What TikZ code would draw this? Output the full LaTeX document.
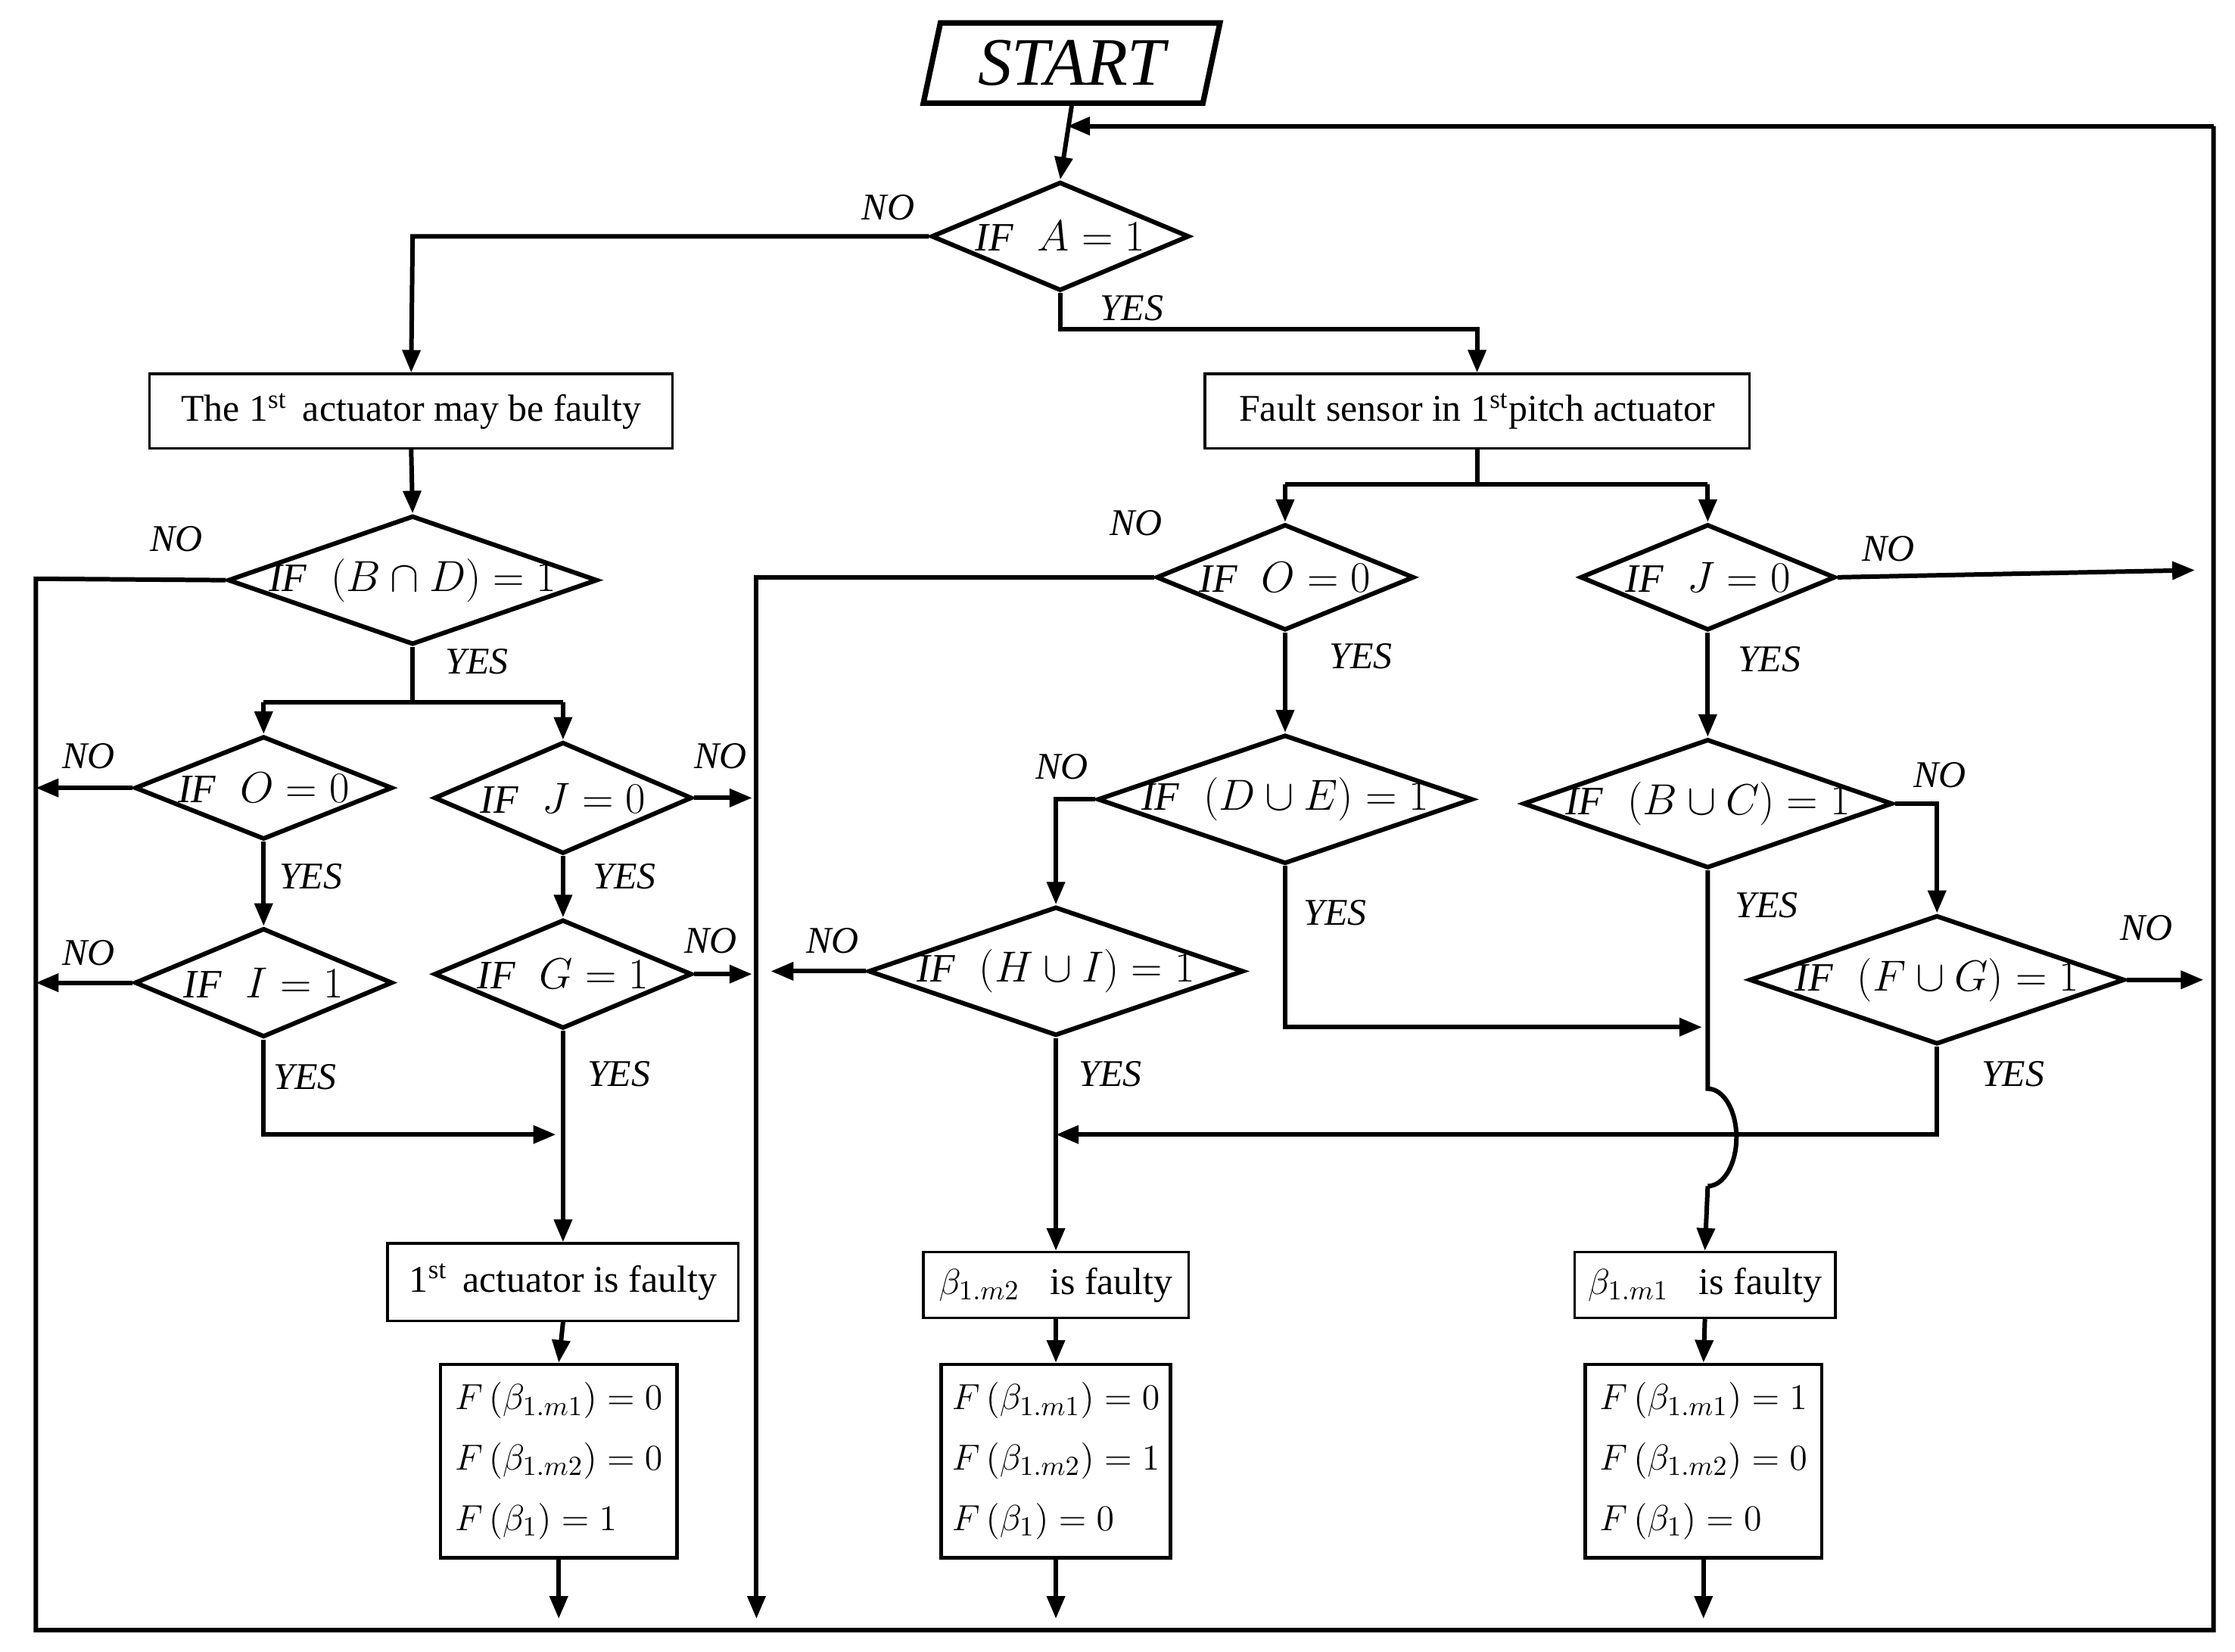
\documentclass[tikz,border=0pt]{standalone}
\usepackage{fontspec}
\setmainfont{Liberation Serif}
\usetikzlibrary{shapes.geometric,arrows.meta}
\begin{document}
\begin{tikzpicture}[x=0.02cm,y=-0.02cm,
  every path/.style={line width=1.6pt},
  line/.style={draw,line width=1.8pt},
  arr/.style={line,-{Triangle[length=9pt,width=7pt]}},
  dia/.style={diamond,draw,line width=1.8pt,inner sep=0pt,text width=0pt,text height=0pt,text depth=0pt},
  dt/.style={font=\fontsize{16}{18}\selectfont},
  box/.style={rectangle,draw,line width=1pt,inner sep=2pt,font=\fontsize{15}{18}\selectfont},
  eq/.style={rectangle,draw,line width=1.4pt,align=left,font=\fontsize{15}{24}\selectfont,minimum height=135*0.02cm},
  lab/.style={font=\fontsize{15}{18}\selectfont\itshape}]
\useasboundingbox (0,0) rectangle (1560,1153);
\node[trapezium,trapezium left angle=78,trapezium right angle=102,draw,line width=2.2pt,minimum width=170*0.02cm,minimum height=56*0.02cm,font=\fontsize{27}{30}\selectfont\itshape] (start) at (748,44) {START};
\coordinate (top) at (745,88);
\node[dia,minimum width=180*0.02cm,minimum height=76*0.02cm] (dA) at (740,165) {};
\node[dt] (tA) at (dA) {$\mathit{IF}\;\;A=1$};
\draw[arr] (start.south) -- (dA.north);
\node[box,minimum width=365*0.02cm,minimum height=52*0.02cm] (b1) at (287,287) {The 1$^{\mathrm{st}}$\, actuator may be faulty};
\node[box,minimum width=380*0.02cm,minimum height=52*0.02cm] (b2) at (1031,287) {Fault sensor in 1$^{\mathrm{st}}$pitch actuator};
\draw[arr] (dA.west) -- (288,165) -- (b1.north);
\node[lab] at (620,145) {NO};
\draw[arr] (dA.south) -- (740,230) -- (1031,230) -- (b2.north);
\node[lab] at (790,215) {YES};
% left branch
\node[dia,minimum width=258*0.02cm,minimum height=90*0.02cm] (dBD) at (288,405) {};
\node[dt] (tBD) at (dBD) {$\mathit{IF}\;\;(B\cap D)=1$};
\draw[arr] (b1.south) -- (dBD.north);
\coordinate (LL) at (25,404);
\draw[line] (dBD.west) -- (LL) -- (25,1138) -- (1545,1138) -- (1545,88);
\draw[arr] (1545,88) -- (top);
\node[lab] at (123,376) {NO};
\node[dia,minimum width=180*0.02cm,minimum height=72*0.02cm] (dO1) at (184,550) {};
\node[dt] (tO1) at (dO1) {$\mathit{IF}\;\;O=0$};
\node[dia,minimum width=180*0.02cm,minimum height=78*0.02cm] (dJ1) at (393,557) {};
\node[dt] (tJ1) at (dJ1) {$\mathit{IF}\;\;J=0$};
\draw[line] (dBD.south) -- (288,490);
\draw[arr] (184,490) -- (dO1.north);
\draw[arr] (393,490) -- (dJ1.north);
\draw[line] (184,490) -- (393,490);
\node[lab] at (333,462) {YES};
\draw[arr] (dO1.west) -- (25,550); \node[lab] at (62,528) {NO};
\draw[arr] (dJ1.east) -- (525,557); \node[lab] at (503,528) {NO};
\node[dia,minimum width=180*0.02cm,minimum height=76*0.02cm] (dI) at (184,686) {};
\node[dt] (tI) at (dI) {$\mathit{IF}\;\;I=1$};
\node[dia,minimum width=180*0.02cm,minimum height=76*0.02cm] (dG) at (393,680) {};
\node[dt] (tG) at (dG) {$\mathit{IF}\;\;G=1$};
\draw[arr] (dO1.south) -- (dI.north); \node[lab] at (217,612) {YES};
\draw[arr] (dJ1.south) -- (dG.north); \node[lab] at (436,612) {YES};
\draw[arr] (dI.west) -- (25,686); \node[lab] at (62,665) {NO};
\draw[arr] (dG.east) -- (525,680); \node[lab] at (496,657) {NO};
\node[box,minimum width=245*0.02cm,minimum height=54*0.02cm] (f1) at (393,895) {1$^{\mathrm{st}}$\, actuator is faulty};
\draw[arr] (dI.south) -- (184,792) -- (388,792); \node[lab] at (213,752) {YES};
\draw[arr] (dG.south) -- (f1.north); \node[lab] at (432,750) {YES};
\node[eq,minimum width=165*0.02cm] (e1) at (390,1020) {$F\,(\beta_{1.m1})=0$\\$F\,(\beta_{1.m2})=0$\\$F\,(\beta_{1})=1$};
\draw[arr] (f1.south) -- (e1.north);
\draw[arr] (e1.south) -- (390,1130);
% right branch
\node[dia,minimum width=180*0.02cm,minimum height=74*0.02cm] (dO2) at (897,403) {};
\node[dt] (tO2) at (dO2) {$\mathit{IF}\;\;O=0$};
\node[dia,minimum width=178*0.02cm,minimum height=74*0.02cm] (dJ2) at (1192,403) {};
\node[dt] (tJ2) at (dJ2) {$\mathit{IF}\;\;J=0$};
\draw[line] (b2.south) -- (1031,338);
\draw[line] (897,338) -- (1192,338);
\draw[arr] (897,338) -- (dO2.north);
\draw[arr] (1192,338) -- (dJ2.north);
\draw[arr] (dO2.west) -- (528,403) -- (528,1130); \node[lab] at (793,365) {NO};
\draw[arr] (dJ2.east) -- (1532,398); \node[lab] at (1318,383) {NO};
\node[dia,minimum width=262*0.02cm,minimum height=90*0.02cm] (dDE) at (897,558) {};
\node[dt] (tDE) at (dDE) {$\mathit{IF}\;\;(D\cup E)=1$};
\node[dia,minimum width=258*0.02cm,minimum height=90*0.02cm] (dBC) at (1192,561) {};
\node[dt] (tBC) at (dBC) {$\mathit{IF}\;\;(B\cup C)=1$};
\draw[arr] (dO2.south) -- (dDE.north); \node[lab] at (950,458) {YES};
\draw[arr] (dJ2.south) -- (dBC.north); \node[lab] at (1235,460) {YES};
\node[dia,minimum width=262*0.02cm,minimum height=90*0.02cm] (dHI) at (737,678) {};
\node[dt] (tHI) at (dHI) {$\mathit{IF}\;\;(H\cup I)=1$};
\node[dia,minimum width=262*0.02cm,minimum height=90*0.02cm] (dFG) at (1352,684) {};
\node[dt] (tFG) at (dFG) {$\mathit{IF}\;\;(F\cup G)=1$};
\draw[arr] (dDE.west) -- (737,558) -- (dHI.north); \node[lab] at (741,535) {NO};
\draw[arr] (dDE.south) -- (897,717) -- (1188,717); \node[lab] at (932,637) {YES};
\draw[arr] (dBC.east) -- (1352,561) -- (dFG.north); \node[lab] at (1354,541) {NO};
\draw[arr] (dHI.west) -- (538,678); \node[lab] at (581,657) {NO};
\draw[arr] (dFG.east) -- (1538,684); \node[lab] at (1498,648) {NO};
\node[box,minimum width=185*0.02cm,minimum height=46*0.02cm] (f2) at (737,897) {$\beta_{1.m2}$\;\; is faulty};
\node[box,minimum width=182*0.02cm,minimum height=46*0.02cm] (f3) at (1190,897) {$\beta_{1.m1}$\;\; is faulty};
\draw[arr] (dHI.south) -- (f2.north); \node[lab] at (775,750) {YES};
\draw[arr] (dFG.south) -- (1352,792) -- (737,792); \node[lab] at (1405,750) {YES};
\draw[line] (dBC.south) -- (1192,760) arc[start angle=-90,end angle=90,x radius=20,y radius=34];
\draw[arr] (1192,828) -- (f3.north); \node[lab] at (1233,632) {YES};
\node[eq,minimum width=160*0.02cm] (e2) at (737,1020) {$F\,(\beta_{1.m1})=0$\\$F\,(\beta_{1.m2})=1$\\$F\,(\beta_{1})=0$};
\node[eq,minimum width=165*0.02cm] (e3) at (1189,1020) {$F\,(\beta_{1.m1})=1$\\$F\,(\beta_{1.m2})=0$\\$F\,(\beta_{1})=0$};
\draw[arr] (f2.south) -- (e2.north);
\draw[arr] (f3.south) -- (e3.north);
\draw[arr] (e2.south) -- (737,1130);
\draw[arr] (e3.south) -- (1189,1130);
\end{tikzpicture}
\end{document}
